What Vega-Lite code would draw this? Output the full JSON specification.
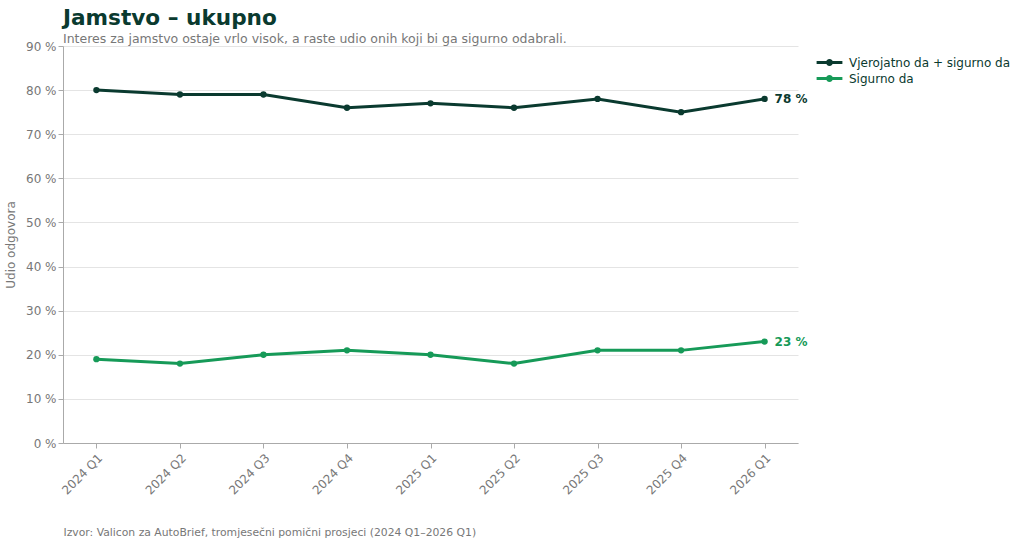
{
  "$schema": "https://vega.github.io/schema/vega-lite/v6.json",
  "autosize": "none",
  "width": 735,
  "height": 397,
  "padding": {"left": 63, "top": 46, "right": 226, "bottom": 107},
  "background": "white",
  "title": {
    "text": "Jamstvo – ukupno",
    "subtitle": "Interes za jamstvo ostaje vrlo visok, a raste udio onih koji bi ga sigurno odabrali.",
    "anchor": "start",
    "frame": "group",
    "offset": -5,
    "font": "DejaVu Sans",
    "fontSize": 21.6,
    "fontWeight": "bold",
    "color": "#0a3a2f",
    "subtitleFont": "DejaVu Sans",
    "subtitleFontSize": 12.5,
    "subtitleColor": "#777777",
    "subtitlePadding": 3
  },
  "config": {
    "font": "DejaVu Sans",
    "view": {"stroke": null},
    "axis": {
      "labelFont": "DejaVu Sans",
      "labelFontSize": 12,
      "labelColor": "#777777",
      "titleFont": "DejaVu Sans",
      "titleColor": "#777777",
      "titleFontWeight": "normal",
      "domainColor": "#aaaaaa",
      "tickColor": "#aaaaaa",
      "tickSize": 5,
      "gridColor": "#e4e4e4",
      "gridWidth": 1
    },
    "legend": {
      "labelFont": "DejaVu Sans",
      "labelFontSize": 12,
      "labelColor": "#0a3a2f",
      "labelLimit": 0
    }
  },
  "data": {
    "values": [
      {"kvartal": "2024 Q1", "serija": "Vjerojatno da + sigurno da", "udio": 80},
      {"kvartal": "2024 Q2", "serija": "Vjerojatno da + sigurno da", "udio": 79},
      {"kvartal": "2024 Q3", "serija": "Vjerojatno da + sigurno da", "udio": 79},
      {"kvartal": "2024 Q4", "serija": "Vjerojatno da + sigurno da", "udio": 76},
      {"kvartal": "2025 Q1", "serija": "Vjerojatno da + sigurno da", "udio": 77},
      {"kvartal": "2025 Q2", "serija": "Vjerojatno da + sigurno da", "udio": 76},
      {"kvartal": "2025 Q3", "serija": "Vjerojatno da + sigurno da", "udio": 78},
      {"kvartal": "2025 Q4", "serija": "Vjerojatno da + sigurno da", "udio": 75},
      {"kvartal": "2026 Q1", "serija": "Vjerojatno da + sigurno da", "udio": 78},
      {"kvartal": "2024 Q1", "serija": "Sigurno da", "udio": 19},
      {"kvartal": "2024 Q2", "serija": "Sigurno da", "udio": 18},
      {"kvartal": "2024 Q3", "serija": "Sigurno da", "udio": 20},
      {"kvartal": "2024 Q4", "serija": "Sigurno da", "udio": 21},
      {"kvartal": "2025 Q1", "serija": "Sigurno da", "udio": 20},
      {"kvartal": "2025 Q2", "serija": "Sigurno da", "udio": 18},
      {"kvartal": "2025 Q3", "serija": "Sigurno da", "udio": 21},
      {"kvartal": "2025 Q4", "serija": "Sigurno da", "udio": 21},
      {"kvartal": "2026 Q1", "serija": "Sigurno da", "udio": 23}
    ]
  },
  "encoding": {
    "x": {
      "field": "kvartal",
      "type": "ordinal",
      "scale": {"type": "point", "padding": 0.4},
      "axis": {
        "title": "Izvor: Valicon za AutoBrief, tromjesečni pomični prosjeci (2024 Q1–2026 Q1)",
        "titleAnchor": "start",
        "titleAlign": "left",
        "titleFontSize": 10.8,
        "titlePadding": 30,
        "labelAngle": -45,
        "labelAlign": "right",
        "labelBaseline": "top",
        "labelPadding": 4,
        "grid": false
      }
    },
    "y": {
      "field": "udio",
      "type": "quantitative",
      "scale": {"domain": [0, 90], "nice": false},
      "axis": {
        "title": "Udio odgovora",
        "titleFontSize": 12,
        "titlePadding": 8,
        "values": [0, 10, 20, 30, 40, 50, 60, 70, 80, 90],
        "labelExpr": "datum.value + ' %'",
        "grid": true
      }
    },
    "color": {
      "field": "serija",
      "type": "nominal",
      "scale": {
        "domain": ["Vjerojatno da + sigurno da", "Sigurno da"],
        "range": ["#0a3a2f", "#169a58"]
      }
    }
  },
  "layer": [
    {
      "mark": {"type": "line", "strokeWidth": 3},
      "encoding": {
        "color": {
          "field": "serija",
          "type": "nominal",
          "legend": {
            "title": null,
            "orient": "none",
            "legendX": 758,
            "legendY": 8,
            "symbolType": "M-1.6,-0.19L1.6,-0.19L1.6,0.19L-1.6,0.19Z M0.43,0A0.43,0.43 0 1 1 -0.43,0A0.43,0.43 0 1 1 0.43,0Z",
            "symbolSize": 260,
            "symbolStrokeWidth": 0,
            "labelOffset": 11,
            "rowPadding": 1,
            "encode": {
              "symbols": {"update": {"fill": {"scale": "color", "field": "value"}, "fillOpacity": {"value": 1}}}
            }
          }
        }
      }
    },
    {
      "mark": {"type": "point", "filled": true, "size": 40, "opacity": 1}
    },
    {
      "transform": [
        {"filter": "datum.kvartal === '2026 Q1'"},
        {"calculate": "datum.udio + ' %'", "as": "oznaka"}
      ],
      "mark": {"type": "text", "align": "left", "baseline": "middle", "dx": 10, "fontWeight": "bold", "fontSize": 12},
      "encoding": {
        "text": {"field": "oznaka", "type": "nominal"}
      }
    }
  ]
}
